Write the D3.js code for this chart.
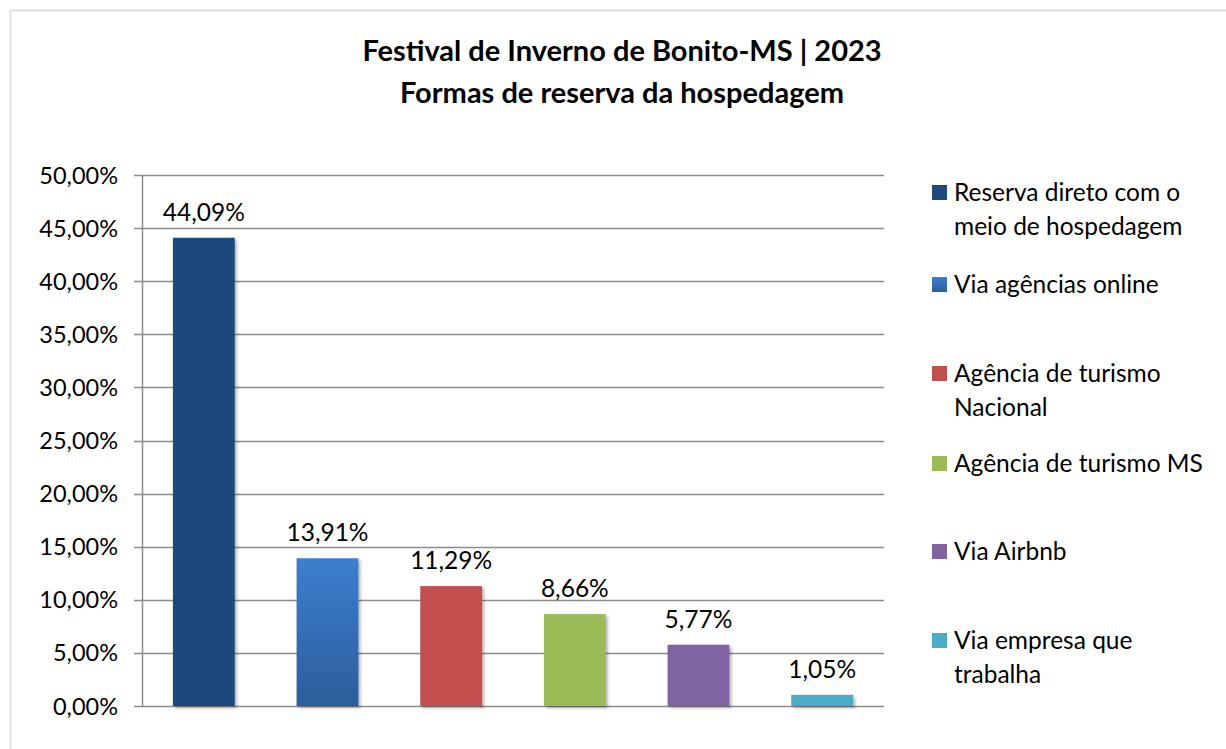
<!DOCTYPE html>
<html><head><meta charset="utf-8">
<script src="https://cdn.jsdelivr.net/npm/d3@7"></script>
<style>body{margin:0;background:#fff}svg{display:block}</style>
</head><body>
<svg id="c" width="1226" height="749"></svg>
<script>
const categories = ["Reserva direto com o meio de hospedagem","Via agências online","Agência de turismo Nacional","Agência de turismo MS","Via Airbnb","Via empresa que trabalha"];
const legendLines = [["Reserva direto com o","meio de hospedagem"],["Via agências online"],["Agência de turismo","Nacional"],["Agência de turismo MS"],["Via Airbnb"],["Via empresa que","trabalha"]];
const values = [44.09,13.91,11.29,8.66,5.77,1.05];
const colors = ["#1f497d","#3a7bca","#c0504d","#9bbb59","#8064a2","#4bacc6"];
const yTicks = [0,5,10,15,20,25,30,35,40,45,50];
const titleLines = ["Festival de Inverno de Bonito-MS | 2023","Formas de reserva da hospedagem"];

const font = "Lato, 'Open Sans', sans-serif";
const svg = d3.select("#c");
const defs = svg.append("defs");
const g2 = defs.append("linearGradient").attr("id","gblue").attr("x1",0).attr("y1",0).attr("x2",0).attr("y2",1);
g2.append("stop").attr("offset","0%").attr("stop-color","#3d7ed0");
g2.append("stop").attr("offset","100%").attr("stop-color","#2c5d9c");
const f = defs.append("filter").attr("id","sh").attr("x","-20%").attr("y","-20%").attr("width","150%").attr("height","150%");
f.append("feDropShadow").attr("dx",2).attr("dy",2).attr("stdDeviation",1.5).attr("flood-color","#000").attr("flood-opacity",0.3);

svg.append("rect").attr("x",10.5).attr("y",10.5).attr("width",1230).attr("height",760).attr("fill","#fff").attr("stroke","#d9d9d9").attr("stroke-width",1.5);

svg.selectAll("text.title").data(titleLines).enter().append("text")
  .attr("x",622).attr("y",(d,i)=>61+i*42).attr("text-anchor","middle")
  .style("font-family",font).style("font-weight","bold").style("font-size","29px").attr("fill","#000").text(d=>d);

const x0=142,x1=884,yTop=175,yBot=706;
const x = d3.scaleBand().domain(categories).range([x0,x1]).paddingInner(0.5).paddingOuter(0.25);
const y = d3.scaleLinear().domain([0,50]).range([yBot,yTop]);

svg.append("g").selectAll("line").data(yTicks).enter().append("line")
  .attr("x1",x0-8).attr("x2",x1).attr("y1",d=>Math.round(y(d))+0.5).attr("y2",d=>Math.round(y(d))+0.5)
  .attr("stroke","#8c8c8c").attr("stroke-width",1.5);
svg.append("line").attr("x1",x0+0.5).attr("x2",x0+0.5).attr("y1",yTop).attr("y2",yBot).attr("stroke","#8c8c8c").attr("stroke-width",1.5);

svg.append("g").selectAll("text").data(yTicks).enter().append("text")
  .attr("x",118).attr("y",d=>y(d)+8.5).attr("text-anchor","end")
  .style("font-family",font).style("font-size","23.5px").attr("fill","#000")
  .text(d=>d.toFixed(2).replace(".",",")+"%");

svg.append("g").selectAll("rect").data(values).enter().append("rect")
  .attr("x",(d,i)=>x(categories[i])).attr("width",x.bandwidth())
  .attr("y",d=>y(d)).attr("height",d=>yBot-y(d))
  .attr("fill",(d,i)=>i===1?"url(#gblue)":colors[i]).attr("filter","url(#sh)");

svg.append("g").selectAll("text").data(values).enter().append("text")
  .attr("x",(d,i)=>x(categories[i])+x.bandwidth()/2).attr("y",d=>y(d)-17)
  .attr("text-anchor","middle").style("font-family",font).style("font-size","24.5px").attr("fill","#000")
  .text(d=>d.toFixed(2).replace(".",",")+"%");

const legY=[192,284,373,463,551,640];
const lg = svg.append("g").selectAll("g").data(legendLines).enter().append("g");
lg.append("rect").attr("x",932).attr("y",(d,i)=>legY[i]-7).attr("width",15).attr("height",15)
  .attr("fill",(d,i)=>i===1?"url(#gblue)":colors[i]);
lg.each(function(lines,i){
  d3.select(this).selectAll("text").data(lines).enter().append("text")
    .attr("x",954).attr("y",(d,j)=>legY[i]+9+j*34)
    .style("font-family",font).style("font-size","24.5px").attr("fill","#000").text(d=>d);
});
</script>
</body></html>
